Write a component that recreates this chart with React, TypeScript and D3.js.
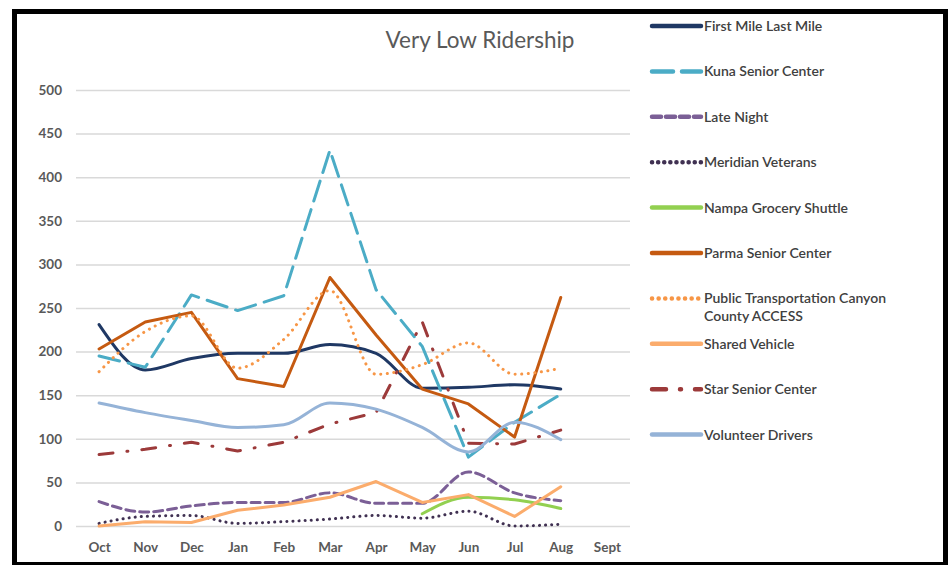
/* eslint-disable */
import React, { useEffect, useRef } from 'react';
import * as d3 from 'd3';

// ------- Data -------
const months = ['Oct', 'Nov', 'Dec', 'Jan', 'Feb', 'Mar', 'Apr', 'May', 'Jun', 'Jul', 'Aug', 'Sept'];
const yTicks = [0, 50, 100, 150, 200, 250, 300, 350, 400, 450, 500];

const firstMileLastMile = [231, 179, 192, 198, 198, 208, 198, 158, 159, 162, 157];
const kunaSeniorCenter = [195, 182, 265, 247, 264, 431, 271, 206, 79, 119, 151];
const lateNight = [28, 16, 23, 27, 27, 38, 26, 26, 62, 38, 29];
const meridianVeterans = [3, 11, 12, 3, 5, 8, 12, 9, 17, 0, 2];
const nampaGroceryShuttle = [null, null, null, null, null, null, null, 14, 33, 30, 20];
const parmaSeniorCenter = [203, 234, 245, 169, 160, 285, 219, 157, 140, 102, 262];
const publicTransportation = [177, 223, 241, 181, 214, 270, 174, 185, 210, 174, 181];
const sharedVehicle = [0, 5, 4, 18, 24, 33, 51, 27, 36, 11, 45];
const starSeniorCenter = [82, 88, 96, 86, 96, 117, 130, 234, 95, 94, 110];
const volunteerDrivers = [141, 130, 121, 113, 116, 141, 134, 113, 85, 119, 99];

type Series = {
  name: string[];
  values: (number | null)[];
  color: string;
  dash: string | null;
  smooth: boolean;
};

const series: Series[] = [
  { name: ['First Mile Last Mile'], values: firstMileLastMile, color: '#1f3864', dash: null, smooth: true },
  { name: ['Kuna Senior Center'], values: kunaSeniorCenter, color: '#4bacc6', dash: '21 9', smooth: false },
  { name: ['Late Night'], values: lateNight, color: '#7b5f96', dash: '9 5', smooth: true },
  { name: ['Meridian Veterans'], values: meridianVeterans, color: '#403152', dash: '0.1 6', smooth: true },
  { name: ['Nampa Grocery Shuttle'], values: nampaGroceryShuttle, color: '#92d050', dash: null, smooth: true },
  { name: ['Parma Senior Center'], values: parmaSeniorCenter, color: '#c55a11', dash: null, smooth: false },
  { name: ['Public Transportation Canyon', 'County ACCESS'], values: publicTransportation, color: '#f79646', dash: '0.1 6.5', smooth: true },
  { name: ['Shared Vehicle'], values: sharedVehicle, color: '#fbac6c', dash: null, smooth: false },
  { name: ['Star Senior Center'], values: starSeniorCenter, color: '#9c3a3a', dash: '14 14 1 14', smooth: false },
  { name: ['Volunteer Drivers'], values: volunteerDrivers, color: '#95b3d7', dash: null, smooth: true },
];

const FONT = 'Lato, "Open Sans", sans-serif';

const Chart = () => {
  const ref = useRef<SVGSVGElement>(null);

  useEffect(() => {
    if (!ref.current) return;
    const svg = d3.select(ref.current);
    svg.selectAll('*').remove();

    const width = 952;
    const height = 565;
    const plot = { left: 76, right: 630, top: 90, bottom: 526 };

    // frame
    svg.append('rect')
      .attr('x', 0).attr('y', 0).attr('width', width).attr('height', height)
      .attr('fill', '#fff');
    svg.append('rect')
      .attr('x', 14.5).attr('y', 11.5).attr('width', 931).attr('height', 553)
      .attr('fill', 'none').attr('stroke', '#000').attr('stroke-width', 5);

    // title
    svg.append('text')
      .attr('x', 480).attr('y', 48)
      .attr('text-anchor', 'middle')
      .attr('font-family', FONT)
      .attr('font-size', 22.5)
      .attr('fill', '#595959')
      .text('Very Low Ridership');

    // ------- Scales -------
    const x = d3.scalePoint<string>()
      .domain(months)
      .range([plot.left, plot.right])
      .padding(0.5);

    const y = d3.scaleLinear()
      .domain([0, 500])
      .range([plot.bottom, plot.top]);

    // ------- Grid + axes -------
    const yAxis = svg.append('g')
      .attr('transform', `translate(${plot.left}, 0)`)
      .call(d3.axisLeft(y).tickValues(yTicks).tickSize(-(plot.right - plot.left)).tickPadding(14));
    yAxis.select('.domain').remove();
    yAxis.selectAll('.tick line').attr('stroke', '#d9d9d9').attr('stroke-width', 1.5);
    yAxis.selectAll('.tick text')
      .attr('font-family', FONT).attr('font-size', 13.5).attr('font-weight', 'bold').attr('fill', '#595959');

    const xAxis = svg.append('g')
      .attr('transform', `translate(0, ${plot.bottom})`)
      .call(d3.axisBottom(x).tickSize(0).tickPadding(16));
    xAxis.select('.domain').remove();
    xAxis.selectAll('.tick text')
      .attr('font-family', FONT).attr('font-size', 13.5).attr('font-weight', 'bold').attr('fill', '#595959');

    // ------- Lines -------
    series.forEach((s) => {
      const line = d3.line<number | null>()
        .defined((d) => d != null)
        .x((_, i) => x(months[i])!)
        .y((d) => y(d as number))
        .curve(s.smooth ? d3.curveMonotoneX : d3.curveLinear);

      svg.append('path')
        .datum(s.values)
        .attr('fill', 'none')
        .attr('stroke', s.color)
        .attr('stroke-width', 3)
        .attr('stroke-linecap', 'round')
        .attr('stroke-linejoin', 'round')
        .attr('stroke-dasharray', s.dash)
        .attr('d', line);
    });

    // ------- Legend -------
    const legend = svg.append('g').attr('transform', 'translate(650, 26)');
    series.forEach((s, i) => {
      const g = legend.append('g').attr('transform', `translate(0, ${i * 45.4})`);
      g.append('line')
        .attr('x1', 2).attr('x2', 51).attr('y1', 0).attr('y2', 0)
        .attr('stroke', s.color)
        .attr('stroke-width', 4.5)
        .attr('stroke-linecap', 'round')
        .attr('stroke-dasharray', s.dash);
      s.name.forEach((t, j) => {
        g.append('text')
          .attr('x', 54).attr('y', j * 18)
          .attr('dy', '0.35em')
          .attr('font-family', FONT)
          .attr('font-size', 14)
          .attr('font-weight', 600)
          .attr('fill', '#404040')
          .text(t);
      });
    });
  }, []);

  return (
    <svg
      ref={ref}
      width={952}
      height={565}
      style={{ position: 'absolute', left: 0, top: 0, display: 'block' }}
    />
  );
};

export default function App() {
  return <Chart />;
}
